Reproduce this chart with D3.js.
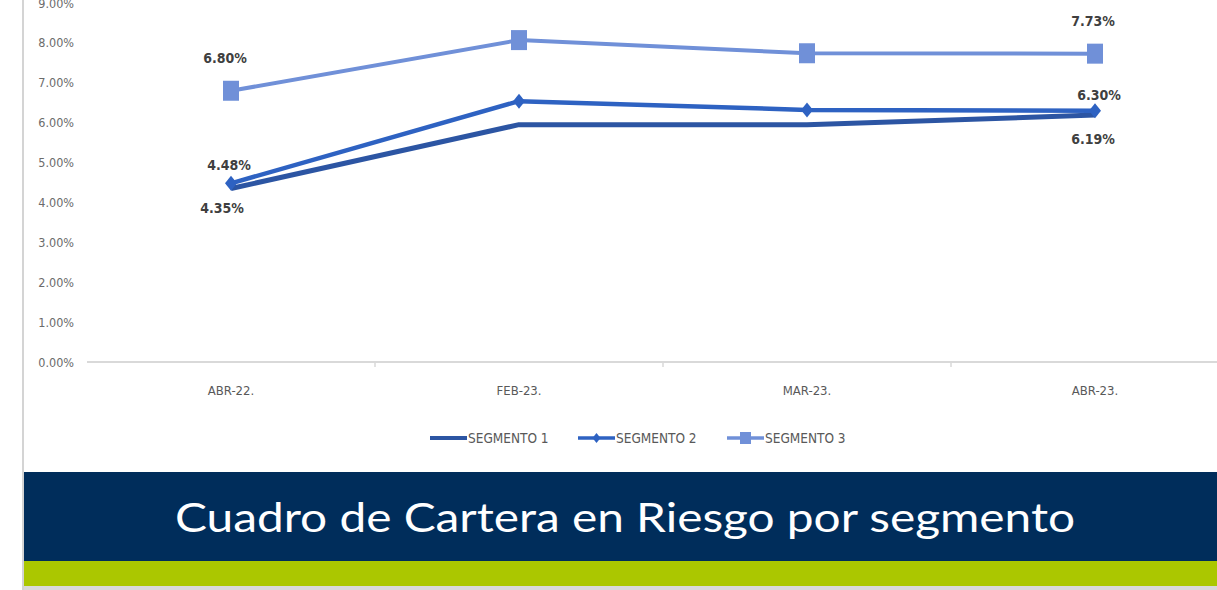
<!DOCTYPE html>
<html><head><meta charset="utf-8">
<script src="https://cdn.jsdelivr.net/npm/d3@7"></script>
<style>
html,body{margin:0;padding:0;background:#fff;}
svg{display:block;}
.cond{font-family:"Liberation Sans Narrow","DejaVu Sans Condensed","Arial Narrow",sans-serif;}
</style></head>
<body>
<svg id="c" width="1217" height="590"></svg>
<script>
const categories = ["ABR-22.", "FEB-23.", "MAR-23.", "ABR-23."];
const seg1 = [4.35, 5.95, 5.95, 6.19];
const seg2 = [4.48, 6.54, 6.32, 6.30];
const seg3 = [6.80, 8.07, 7.74, 7.73];
const seriesNames = ["SEGMENTO 1", "SEGMENTO 2", "SEGMENTO 3"];
const yTicks = [0,1,2,3,4,5,6,7,8,9];
const labels1 = ["4.35%", null, null, "6.19%"];
const labels2 = ["4.48%", null, null, "6.30%"];
const labels3 = ["6.80%", null, null, "7.73%"];
const title = "Cuadro de Cartera en Riesgo por segmento";

const svg = d3.select("#c");
const W = 1217, H = 590;

// frame
svg.append("rect").attr("x",0).attr("y",0).attr("width",W).attr("height",H).attr("fill","#fff");
svg.append("rect").attr("x",22).attr("y",0).attr("width",2).attr("height",H).attr("fill","#d4d4d4");
svg.append("rect").attr("x",24).attr("y",585).attr("width",W-24).attr("height",5).attr("fill","#d9d9d9");

const x = d3.scaleBand().domain(categories).range([87, 1239]).paddingInner(0).paddingOuter(0);
const y = d3.scaleLinear().domain([0, 9]).range([362, 3]);
const cx = d => x(d) + x.bandwidth()/2;

// y axis labels
const yAxis = d3.axisLeft(y).tickValues(yTicks).tickFormat(d => d.toFixed(2) + "%").tickSize(0).tickPadding(0);
const gy = svg.append("g").attr("transform","translate(74,0)").call(yAxis);
gy.select(".domain").remove();
gy.selectAll("text").attr("class","cond").attr("fill","#6b6b6b").style("font-size","12.5px");

// x axis
const xAxis = d3.axisBottom(x).tickSize(0).tickPadding(24);
const gx = svg.append("g").attr("transform","translate(0,362)").call(xAxis);
gx.select(".domain").remove();
gx.selectAll("text").attr("class","cond").attr("fill","#595959").style("font-size","13px");
svg.append("line").attr("x1",87).attr("x2",W).attr("y1",362).attr("y2",362).attr("stroke","#d9d9d9").attr("stroke-width",2);
// tick marks at band boundaries
svg.selectAll("line.tk").data(categories.slice(1)).join("line").attr("class","tk")
  .attr("x1",d=>x(d)).attr("x2",d=>x(d)).attr("y1",362).attr("y2",367).attr("stroke","#d9d9d9").attr("stroke-width",1.5);

const colors = ["#2c55a3", "#2e62c2", "#7090d8"];
const widths = [5, 4.5, 4];
const data = [seg1, seg2, seg3];
const line = d3.line().x((d,i)=>cx(categories[i])).y(d=>y(d));

data.forEach((s,k)=>{
  svg.append("path").datum(s).attr("d",line).attr("fill","none")
    .attr("stroke",colors[k]).attr("stroke-width",widths[k]).attr("stroke-linejoin","round");
});
// markers seg2 diamonds
const diamond = (px,py,w,h) => `M${px},${py-h/2}L${px+w/2},${py}L${px},${py+h/2}L${px-w/2},${py}Z`;
svg.selectAll("path.dm").data(seg2).join("path").attr("class","dm")
  .attr("d",(d,i)=>diamond(cx(categories[i]), y(d), 12, 15)).attr("fill",colors[1]);
// seg3 squares
svg.selectAll("rect.sq").data(seg3).join("rect").attr("class","sq")
  .attr("x",(d,i)=>cx(categories[i])-8).attr("y",d=>y(d)-10).attr("width",16).attr("height",20).attr("fill",colors[2]);

// data labels
const lab = (arr, vals, dx, dy) => {
  arr.forEach((t,i)=>{
    if(!t) return;
    svg.append("text").attr("class","cond").attr("x",cx(categories[i])+dx[i]).attr("y",y(vals[i])+dy[i])
      .attr("text-anchor","middle").attr("dominant-baseline","central")
      .attr("fill","#3f3f3f").style("font-size","14px").style("font-weight","bold").text(t);
  });
};
lab(labels1, seg1, [-9,0,0,-2], [20,0,0,24]);
lab(labels2, seg2, [-2,0,0,4], [-18,0,0,-16]);
lab(labels3, seg3, [-6,0,0,-2], [-33,0,0,-33]);

// legend
const lg = svg.append("g");
const legX = [430, 578, 727];
const ly = 438;
seriesNames.forEach((n,k)=>{
  lg.append("line").attr("x1",legX[k]).attr("x2",legX[k]+37).attr("y1",ly).attr("y2",ly)
    .attr("stroke",colors[k]).attr("stroke-width",k===0?4:3.5);
  if(k===1) lg.append("path").attr("d",diamond(legX[k]+18.5, ly, 8, 10)).attr("fill",colors[1]);
  if(k===2) lg.append("rect").attr("x",legX[k]+13).attr("y",ly-6).attr("width",11).attr("height",12).attr("fill",colors[2]);
  lg.append("text").attr("class","cond").attr("x",legX[k]+38).attr("y",ly).attr("dominant-baseline","central")
    .attr("fill","#595959").style("font-size","13.5px").text(n);
});

// banner
svg.append("rect").attr("x",24).attr("y",472).attr("width",W-24).attr("height",89).attr("fill","#002d5b");
svg.append("rect").attr("x",24).attr("y",561).attr("width",W-24).attr("height",25).attr("fill","#abc700");
svg.append("text").attr("x",625).attr("y",532).attr("text-anchor","middle")
  .attr("fill","#ffffff").style("font-family","Lato, 'Open Sans', sans-serif").style("font-size","41px").style("font-weight","400")
  .attr("textLength",900).attr("lengthAdjust","spacingAndGlyphs").text(title);
</script>
</body></html>
